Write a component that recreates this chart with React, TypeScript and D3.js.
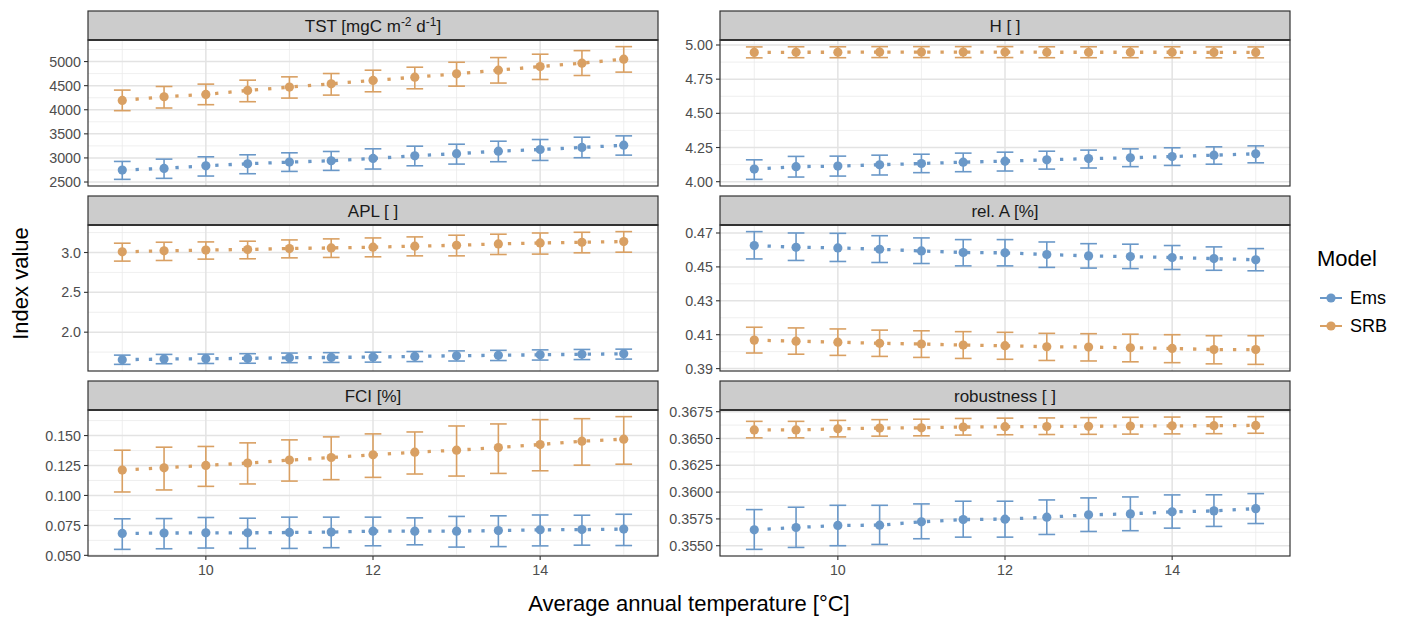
import * as d3 from "d3";

const WIDTH = 1402;
const HEIGHT = 619;

// layout (pixels)
const COLS = [
  [88, 658],
  [720, 1290],
];
const ROW0 = 11;
const ROW_STEP = 185;
const STRIP_H = 29;
const PANEL_H = 146;

const EMS_COLOR = "#6A98C8";
const SRB_COLOR = "#D9A063";
const FONT = "'Liberation Sans', Arial, Helvetica, sans-serif";

// ---- data ----
const TEMPS = [9, 9.5, 10, 10.5, 11, 11.5, 12, 12.5, 13, 13.5, 14, 14.5, 15];
const X_TICKS = [10, 12, 14];

const TST_EMS = [2748, 2782, 2837, 2879, 2913, 2941, 2989, 3044, 3089, 3140, 3175, 3217, 3264];
const TST_EMS_LO = [2555, 2576, 2624, 2672, 2720, 2741, 2769, 2837, 2872, 2921, 2948, 3004, 3058];
const TST_EMS_HI = [2927, 2975, 3023, 3065, 3106, 3134, 3189, 3244, 3285, 3347, 3382, 3430, 3458];
const TST_SRB = [4194, 4270, 4318, 4401, 4470, 4539, 4608, 4677, 4745, 4822, 4897, 4967, 5050];
const TST_SRB_LO = [3981, 4036, 4105, 4167, 4242, 4304, 4373, 4435, 4490, 4554, 4628, 4711, 4781];
const TST_SRB_HI = [4408, 4483, 4532, 4614, 4683, 4752, 4821, 4883, 4986, 5083, 5153, 5227, 5310];
const TST_TICKS = [2500, 3000, 3500, 4000, 4500, 5000];

const H_EMS = [4.092, 4.11, 4.114, 4.124, 4.133, 4.143, 4.15, 4.16, 4.169, 4.175, 4.184, 4.194, 4.204];
const H_EMS_LO = [4.017, 4.034, 4.041, 4.049, 4.066, 4.073, 4.078, 4.092, 4.1, 4.11, 4.119, 4.128, 4.138];
const H_EMS_HI = [4.16, 4.185, 4.187, 4.194, 4.201, 4.209, 4.216, 4.223, 4.231, 4.24, 4.248, 4.255, 4.262];
const H_SRB = [4.946, 4.947, 4.947, 4.948, 4.948, 4.948, 4.948, 4.947, 4.947, 4.947, 4.947, 4.946, 4.946];
const H_SRB_LO = [4.906, 4.907, 4.907, 4.908, 4.908, 4.908, 4.908, 4.907, 4.907, 4.907, 4.907, 4.906, 4.906];
const H_SRB_HI = [4.986, 4.987, 4.987, 4.988, 4.988, 4.988, 4.988, 4.987, 4.987, 4.987, 4.987, 4.986, 4.986];
const H_TICKS = [4.0, 4.25, 4.5, 4.75, 5.0];

const APL_EMS = [1.654, 1.663, 1.667, 1.671, 1.679, 1.683, 1.688, 1.696, 1.704, 1.71, 1.716, 1.723, 1.729];
const APL_EMS_LO = [1.596, 1.604, 1.607, 1.61, 1.617, 1.62, 1.624, 1.631, 1.638, 1.644, 1.65, 1.656, 1.662];
const APL_EMS_HI = [1.712, 1.721, 1.725, 1.73, 1.738, 1.743, 1.749, 1.757, 1.765, 1.772, 1.778, 1.783, 1.787];
const APL_SRB = [3.008, 3.021, 3.03, 3.038, 3.05, 3.058, 3.067, 3.08, 3.091, 3.108, 3.12, 3.129, 3.137];
const APL_SRB_LO = [2.892, 2.9, 2.917, 2.921, 2.933, 2.938, 2.946, 2.958, 2.958, 2.975, 2.98, 2.996, 3.004];
const APL_SRB_HI = [3.117, 3.129, 3.133, 3.142, 3.158, 3.171, 3.183, 3.196, 3.217, 3.23, 3.245, 3.254, 3.262];
const APL_TICKS = [2.0, 2.5, 3.0];

const RELA_EMS = [0.4626, 0.4616, 0.4612, 0.4604, 0.4594, 0.4585, 0.4583, 0.4573, 0.4565, 0.4561, 0.4555, 0.4549, 0.4542];
const RELA_EMS_LO = [0.4547, 0.4538, 0.4532, 0.4526, 0.452, 0.4506, 0.4506, 0.4497, 0.4493, 0.449, 0.4485, 0.448, 0.4477];
const RELA_EMS_HI = [0.4708, 0.47, 0.4698, 0.4684, 0.4671, 0.4661, 0.4661, 0.4647, 0.4637, 0.4634, 0.4626, 0.4618, 0.4608];
const RELA_SRB = [0.4068, 0.4062, 0.4056, 0.4049, 0.4045, 0.4039, 0.4035, 0.4029, 0.4027, 0.4023, 0.4019, 0.4012, 0.4012];
const RELA_SRB_LO = [0.3992, 0.3985, 0.3978, 0.3972, 0.3966, 0.396, 0.3955, 0.3948, 0.3945, 0.394, 0.3935, 0.3928, 0.3925];
const RELA_SRB_HI = [0.4144, 0.4140, 0.4134, 0.4127, 0.4123, 0.4118, 0.4114, 0.4108, 0.4106, 0.4103, 0.41, 0.4094, 0.4094];
const RELA_TICKS = [0.39, 0.41, 0.43, 0.45, 0.47];

const FCI_EMS = [0.0683, 0.0686, 0.0688, 0.0688, 0.0691, 0.0694, 0.0702, 0.0702, 0.0702, 0.0707, 0.0713, 0.0715, 0.0719];
const FCI_EMS_LO = [0.055, 0.0555, 0.0561, 0.0558, 0.0558, 0.0564, 0.058, 0.0588, 0.0569, 0.0573, 0.0579, 0.0585, 0.0582];
const FCI_EMS_HI = [0.0805, 0.0807, 0.0816, 0.081, 0.0819, 0.0819, 0.0819, 0.0813, 0.0825, 0.083, 0.0837, 0.0835, 0.0843];
const FCI_SRB = [0.1212, 0.1231, 0.1251, 0.127, 0.1295, 0.1317, 0.1339, 0.1361, 0.1378, 0.14, 0.1425, 0.1453, 0.147];
const FCI_SRB_LO = [0.1029, 0.1046, 0.1076, 0.1096, 0.112, 0.1132, 0.1151, 0.1179, 0.1162, 0.1184, 0.1206, 0.1253, 0.1261];
const FCI_SRB_HI = [0.1378, 0.1403, 0.1409, 0.1439, 0.1464, 0.1489, 0.1514, 0.153, 0.158, 0.1597, 0.1633, 0.1641, 0.1658];
const FCI_TICKS = [0.05, 0.075, 0.1, 0.125, 0.15];

const ROB_EMS = [0.35648, 0.3567, 0.35689, 0.35692, 0.35723, 0.35744, 0.35748, 0.35766, 0.35788, 0.35797, 0.35816, 0.35825, 0.35846];
const ROB_EMS_LO = [0.35466, 0.35484, 0.355, 0.35512, 0.35565, 0.3558, 0.3558, 0.35605, 0.35633, 0.3564, 0.35664, 0.3568, 0.35707];
const ROB_EMS_HI = [0.35837, 0.35859, 0.35877, 0.35877, 0.3589, 0.35915, 0.35915, 0.35927, 0.35946, 0.35955, 0.35974, 0.35975, 0.35986];
const ROB_SRB = [0.3658, 0.3658, 0.3659, 0.36597, 0.366, 0.36607, 0.3661, 0.36612, 0.36614, 0.36616, 0.36618, 0.3662, 0.36622];
const ROB_SRB_LO = [0.36506, 0.36506, 0.36515, 0.36522, 0.36525, 0.36532, 0.36535, 0.36537, 0.36539, 0.36541, 0.36543, 0.36545, 0.36549];
const ROB_SRB_HI = [0.3666, 0.3666, 0.36669, 0.36676, 0.3668, 0.36687, 0.3669, 0.36692, 0.36695, 0.36698, 0.367, 0.36702, 0.36704];
const ROB_TICKS = [0.355, 0.3575, 0.36, 0.3625, 0.365, 0.3675];

const MODELS = ["Ems", "SRB"];

type Series = { model: string; color: string; mean: number[]; lo: number[]; hi: number[] };
type Panel = { title: any; ticks: number[]; fmt: (v: number) => string; series: Series[] };

const mk = (mEms, lEms, hEms, mSrb, lSrb, hSrb): Series[] => [
  { model: "Ems", color: EMS_COLOR, mean: mEms, lo: lEms, hi: hEms },
  { model: "SRB", color: SRB_COLOR, mean: mSrb, lo: lSrb, hi: hSrb },
];

const PANELS: Panel[] = [
  {
    title: (
      <>
        TST [mgC m<tspan dy={-6} fontSize={12}>-2</tspan>
        <tspan dy={6}> d</tspan>
        <tspan dy={-6} fontSize={12}>-1</tspan>
        <tspan dy={6}>]</tspan>
      </>
    ),
    ticks: TST_TICKS,
    fmt: d3.format("d"),
    series: mk(TST_EMS, TST_EMS_LO, TST_EMS_HI, TST_SRB, TST_SRB_LO, TST_SRB_HI),
  },
  { title: "H [ ]", ticks: H_TICKS, fmt: d3.format(".2f"), series: mk(H_EMS, H_EMS_LO, H_EMS_HI, H_SRB, H_SRB_LO, H_SRB_HI) },
  { title: "APL [ ]", ticks: APL_TICKS, fmt: d3.format(".1f"), series: mk(APL_EMS, APL_EMS_LO, APL_EMS_HI, APL_SRB, APL_SRB_LO, APL_SRB_HI) },
  { title: "rel. A [%]", ticks: RELA_TICKS, fmt: d3.format(".2f"), series: mk(RELA_EMS, RELA_EMS_LO, RELA_EMS_HI, RELA_SRB, RELA_SRB_LO, RELA_SRB_HI) },
  { title: "FCI [%]", ticks: FCI_TICKS, fmt: d3.format(".3f"), series: mk(FCI_EMS, FCI_EMS_LO, FCI_EMS_HI, FCI_SRB, FCI_SRB_LO, FCI_SRB_HI) },
  { title: "robustness [ ]", ticks: ROB_TICKS, fmt: d3.format(".4f"), series: mk(ROB_EMS, ROB_EMS_LO, ROB_EMS_HI, ROB_SRB, ROB_SRB_LO, ROB_SRB_HI) },
];

const ERR_HALF = 0.1; // error bar cap half-width in °C

function expand(lo: number, hi: number) {
  const p = (hi - lo) * 0.05;
  return [lo - p, hi + p];
}

function minorBreaks(ticks: number[], domain: number[]) {
  const step = ticks[1] - ticks[0];
  const out: number[] = [];
  for (let i = -1; i < ticks.length; i++) {
    const v = ticks[0] + step * i + step / 2;
    if (v >= domain[0] && v <= domain[1]) out.push(v);
  }
  return out;
}

function FacetPanel({ panel, index }: { panel: Panel; index: number }) {
  const col = index % 2;
  const row = Math.floor(index / 2);
  const [x0, x1] = COLS[col];
  const top = ROW0 + row * ROW_STEP;
  const pTop = top + STRIP_H;
  const pBot = pTop + PANEL_H;

  const xScale = d3
    .scaleLinear()
    .domain(expand(TEMPS[0] - ERR_HALF, TEMPS[TEMPS.length - 1] + ERR_HALF))
    .range([x0, x1]);

  const allLo = d3.min(panel.series, (s) => d3.min(s.lo)) as number;
  const allHi = d3.max(panel.series, (s) => d3.max(s.hi)) as number;
  const yDom = expand(allLo, allHi);
  const yScale = d3.scaleLinear().domain(yDom).range([pBot, pTop]);

  const xMinor = minorBreaks(X_TICKS, xScale.domain());
  const yMinor = minorBreaks(panel.ticks, yDom);

  const line = d3
    .line<number>()
    .x((_, i) => xScale(TEMPS[i]))
    .y((d) => yScale(d));

  const isBottom = row === 2;

  return (
    <g>
      {/* panel background + grid */}
      <rect x={x0} y={pTop} width={x1 - x0} height={PANEL_H} fill="#fff" />
      {yMinor.map((v) => (
        <line key={"ym" + v} x1={x0} x2={x1} y1={yScale(v)} y2={yScale(v)} stroke="#EBEBEB" strokeWidth={0.8} />
      ))}
      {xMinor.map((v) => (
        <line key={"xm" + v} x1={xScale(v)} x2={xScale(v)} y1={pTop} y2={pBot} stroke="#EBEBEB" strokeWidth={0.8} />
      ))}
      {panel.ticks.map((v) => (
        <line key={"yM" + v} x1={x0} x2={x1} y1={yScale(v)} y2={yScale(v)} stroke="#E3E3E3" strokeWidth={1.5} />
      ))}
      {X_TICKS.map((v) => (
        <line key={"xM" + v} x1={xScale(v)} x2={xScale(v)} y1={pTop} y2={pBot} stroke="#E3E3E3" strokeWidth={1.5} />
      ))}

      {/* data */}
      {panel.series.map((s) => (
        <g key={s.model}>
          <path
            d={line(s.mean) as string}
            fill="none"
            stroke={s.color}
            strokeWidth={3.3}
            strokeDasharray="3.3 10"
          />
          {TEMPS.map((t, i) => {
            const cx = xScale(t);
            const a = xScale(t - ERR_HALF);
            const b = xScale(t + ERR_HALF);
            return (
              <g key={t} stroke={s.color} strokeWidth={1.6}>
                <line x1={cx} x2={cx} y1={yScale(s.lo[i])} y2={yScale(s.hi[i])} />
                <line x1={a} x2={b} y1={yScale(s.lo[i])} y2={yScale(s.lo[i])} />
                <line x1={a} x2={b} y1={yScale(s.hi[i])} y2={yScale(s.hi[i])} />
              </g>
            );
          })}
          {TEMPS.map((t, i) => (
            <circle key={"p" + t} cx={xScale(t)} cy={yScale(s.mean[i])} r={4.6} fill={s.color} />
          ))}
        </g>
      ))}

      {/* border */}
      <rect x={x0} y={pTop} width={x1 - x0} height={PANEL_H} fill="none" stroke="#333" strokeWidth={1.2} />

      {/* strip */}
      <rect x={x0} y={top} width={x1 - x0} height={STRIP_H} fill="#CCCCCC" stroke="#333" strokeWidth={1.2} />
      <line x1={x0} x2={x1} y1={pTop} y2={pTop} stroke="#333" strokeWidth={2} />
      <text
        x={(x0 + x1) / 2}
        y={top + STRIP_H / 2 + 6}
        textAnchor="middle"
        fontSize={17}
        fill="#1A1A1A"
        fontFamily={FONT}>
        {panel.title}
      </text>

      {/* y axis */}
      {panel.ticks.map((v) => (
        <g key={"yt" + v}>
          <line x1={x0 - 4} x2={x0} y1={yScale(v)} y2={yScale(v)} stroke="#333" strokeWidth={1.1} />
          <text
            x={x0 - 7}
            y={yScale(v)}
            dy="0.36em"
            textAnchor="end"
            fontSize={14.3}
            fill="#4D4D4D"
            fontFamily={FONT}>
            {panel.fmt(v)}
          </text>
        </g>
      ))}

      {/* x axis, bottom row only */}
      {isBottom &&
        X_TICKS.map((v) => (
          <g key={"xt" + v}>
            <line x1={xScale(v)} x2={xScale(v)} y1={pBot} y2={pBot + 4} stroke="#333" strokeWidth={1.1} />
            <text x={xScale(v)} y={pBot + 19} textAnchor="middle" fontSize={14.3} fill="#4D4D4D" fontFamily={FONT}>
              {v}
            </text>
          </g>
        ))}
    </g>
  );
}

export default function App() {
  const legendColors = [EMS_COLOR, SRB_COLOR];
  return (
    <svg
      width={WIDTH}
      height={HEIGHT}
      style={{ position: "absolute", left: 0, top: 0, display: "block", background: "#fff" }}>
      {PANELS.map((p, i) => (
        <FacetPanel key={i} panel={p} index={i} />
      ))}

      {/* axis titles */}
      <text x={(COLS[0][0] + COLS[1][1]) / 2} y={611} textAnchor="middle" fontSize={22} fontFamily={FONT} fill="#000">
        Average annual temperature [°C]
      </text>
      <text
        transform={`translate(28, ${(ROW0 + ROW0 + 2 * ROW_STEP + STRIP_H + PANEL_H) / 2}) rotate(-90)`}
        textAnchor="middle"
        fontSize={22}
        fontFamily={FONT}
        fill="#000">
        Index value
      </text>

      {/* legend */}
      <text x={1317} y={266} fontSize={22} fontFamily={FONT} fill="#000">
        Model
      </text>
      {MODELS.map((m, i) => {
        const cy = 298 + i * 28;
        return (
          <g key={m}>
            <line x1={1320} x2={1342} y1={cy} y2={cy} stroke={legendColors[i]} strokeWidth={2} />
            <circle cx={1331} cy={cy} r={4.6} fill={legendColors[i]} />
            <text x={1350} y={cy + 6} fontSize={18} fontFamily={FONT} fill="#000">
              {m}
            </text>
          </g>
        );
      })}
    </svg>
  );
}
